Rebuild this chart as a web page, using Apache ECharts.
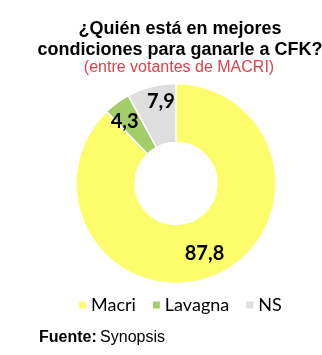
<!DOCTYPE html>
<html>
<head>
<meta charset="utf-8">
<style>
  html, body { margin: 0; padding: 0; background: #ffffff; }
  #chart { width: 322px; height: 355px; }
</style>
<script src="https://cdn.jsdelivr.net/npm/echarts@6/dist/echarts.min.js"></script>
</head>
<body>
<div id="chart"></div>
<script>
// Who is best placed to beat CFK (among Macri voters)
const categories = ['Macri', 'Lavagna', 'NS'];
const values = [87.8, 4.3, 7.9];
const sliceColors = ['#FDFD6C', '#A3CC6B', '#DEDEDE'];
const labelOffsets = [[1, 2], [-8, -3], [3, -11]];

const chart = echarts.init(document.getElementById('chart'), null, { renderer: 'canvas' });

const pieData = categories.map((name, i) => ({
  name: name,
  value: values[i],
  itemStyle: { color: sliceColors[i] },
  label: { offset: labelOffsets[i] }
}));

chart.setOption({
  backgroundColor: '#ffffff',
  animation: false,
  title: [
    {
      text: '¿Quién está en mejores\ncondiciones para ganarle a CFK?',
      left: 175,
      top: 14,
      textAlign: 'center',
      textStyle: {
        fontFamily: 'Liberation Sans, Arial, sans-serif',
        fontSize: 18,
        fontWeight: 'bold',
        color: '#000000',
        lineHeight: 21
      }
    },
    {
      text: '(entre votantes de MACRI)',
      left: 174,
      top: 55,
      textAlign: 'center',
      textStyle: {
        fontFamily: 'Liberation Sans, Arial, sans-serif',
        fontSize: 16,
        fontWeight: 'normal',
        color: '#E0404A'
      }
    }
  ],
  legend: {
    data: categories,
    left: 77,
    top: 296,
    padding: 0,
    itemWidth: 9,
    itemHeight: 9,
    itemGap: 15,
    icon: 'rect',
    textStyle: {
      fontFamily: 'Lato, sans-serif',
      fontSize: 18,
      color: '#000000',
      padding: [2, 0, 0, -1]
    }
  },
  series: [{
    type: 'pie',
    center: [176, 183.5],
    radius: [41, 100],
    startAngle: 90,
    clockwise: true,
    avoidLabelOverlap: false,
    itemStyle: { borderColor: '#ffffff', borderWidth: 1.5 },
    label: {
      show: true,
      position: 'inside',
      formatter: p => String(p.value).replace('.', ','),
      fontFamily: 'Lato, sans-serif',
      fontWeight: 'bold',
      fontSize: 20,
      color: '#000000'
    },
    labelLine: { show: false },
    emphasis: { disabled: true },
    data: pieData
  }],
  graphic: [{
    type: 'text',
    left: 39,
    top: 330,
    style: {
      text: '{b|Fuente:} {r|Synopsis}',
      rich: {
        b: { fontFamily: 'Liberation Sans, Arial, sans-serif', fontSize: 16, fontWeight: 'bold', fill: '#000000' },
        r: { fontFamily: 'Liberation Sans, Arial, sans-serif', fontSize: 16, fill: '#000000' }
      }
    }
  }]
});
</script>
</body>
</html>
